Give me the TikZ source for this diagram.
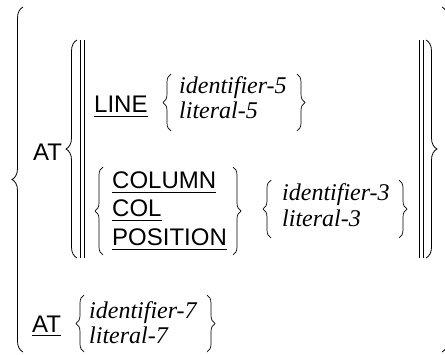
\documentclass[tikz,border=0pt]{standalone}
\usepackage{fontspec}
\setmainfont{Liberation Serif}
\setsansfont{Liberation Sans}
\newfontfamily\varfont{Liberation Serif}[ItalicFont={Liberation Serif Italic}]
\usetikzlibrary{decorations.pathreplacing}
\begin{document}
\begin{tikzpicture}[x=1pt,y=1pt,
  kw/.style={font=\sffamily\fontsize{24}{28}\selectfont, anchor=base west, inner sep=0pt},
  var/.style={font=\varfont\itshape\fontsize{24}{28}\selectfont, anchor=base west, inner sep=0pt},
  bigbrace/.style={decorate, decoration={brace, amplitude=11pt}, line width=0.8pt},
  smallbrace/.style={decorate, decoration={brace, amplitude=8pt}, line width=0.7pt},
  bar/.style={line width=0.9pt},
  uline/.style={line width=1pt}]
\useasboundingbox (0,0) rectangle (445,-354);
\clip (0,0) rectangle (445,-354);
% outer braces
\draw[bigbrace] (23,-352) -- (23,-7);
\draw[bigbrace] (442,-7) -- (442,-352);
% upper AT
\node[kw] (at1) at (33,-160) {AT};
\draw[bigbrace] (77,-258) -- (77,-40);
\draw[bar] (80,-40) -- (80,-258);
\draw[bar] (84,-40) -- (84,-258);
\draw[bar] (419,-40) -- (419,-258);
\draw[bar] (423,-40) -- (423,-258);
\draw[bigbrace] (426,-40) -- (426,-258);
% LINE row
\node[kw] (line) at (94,-112) {LINE};
\draw[uline] ([yshift=-4pt]line.base west) -- ([yshift=-4pt]line.base east);
\draw[smallbrace] (171,-131) -- (171,-74);
\node[var] (id5) at (179,-93) {identifier-5};
\node[var] (lit5) at (179,-118) {literal-5};
\draw[smallbrace] (297,-74) -- (297,-131);
% COLUMN row
\draw[smallbrace] (103,-255) -- (103,-167);
\node[kw] (column) at (112,-188) {COLUMN};
\node[kw] (col) at (112,-216) {COL};
\node[kw] (position) at (112,-245) {POSITION};
\draw[uline] ([yshift=-4pt]column.base west) -- ([yshift=-4pt]column.base east);
\draw[uline] ([yshift=-4pt]col.base west) -- ([yshift=-4pt]col.base east);
\draw[uline] ([yshift=-4pt]position.base west) -- ([yshift=-4pt]position.base east);
\draw[smallbrace] (233,-167) -- (233,-255);
\draw[smallbrace] (271,-238) -- (271,-180);
\node[var] (id3) at (282,-200) {identifier-3};
\node[var] (lit3) at (282,-226) {literal-3};
\draw[smallbrace] (399,-180) -- (399,-238);
% lower AT
\node[kw] (at2) at (32,-332) {AT};
\draw[uline] ([yshift=-3pt]at2.base west) -- ([yshift=-3pt]at2.base east);
\draw[smallbrace] (84,-352) -- (84,-295);
\node[var] (id7) at (89,-318) {identifier-7};
\node[var] (lit7) at (89,-343) {literal-7};
\draw[smallbrace] (207,-295) -- (207,-352);
\end{tikzpicture}
\end{document}
